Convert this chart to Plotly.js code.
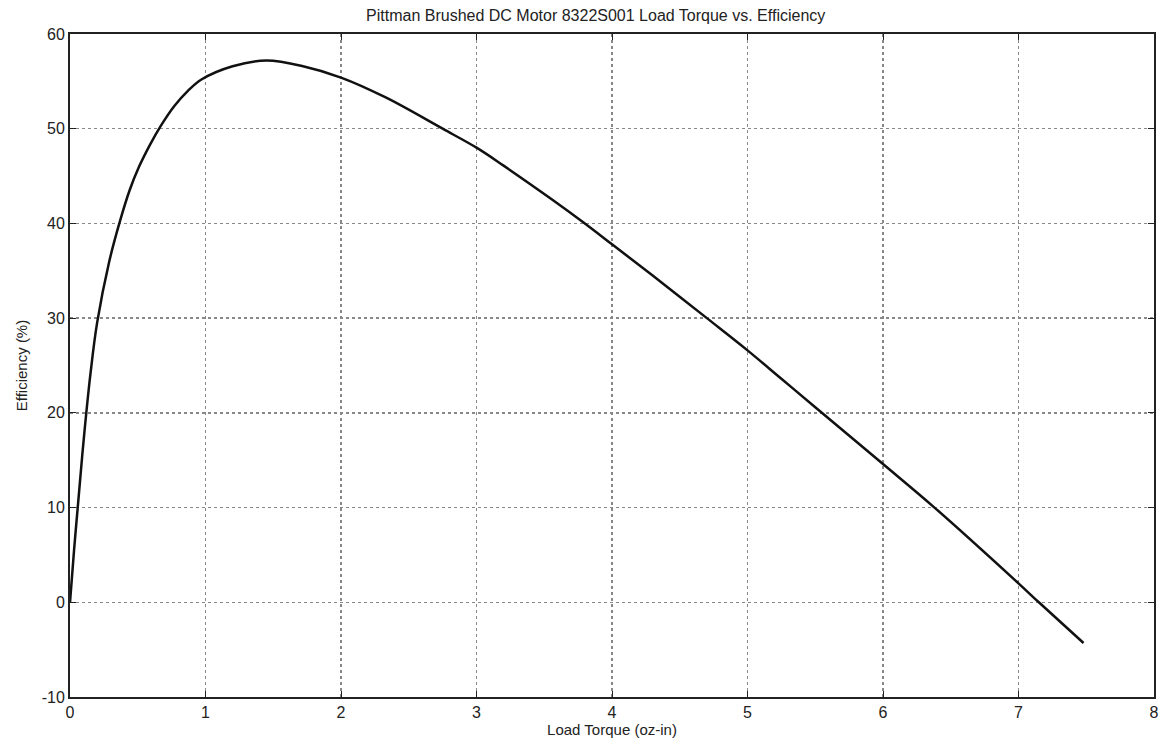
<!DOCTYPE html>
<html>
<head>
<meta charset="utf-8">
<script src="https://cdn.plot.ly/plotly-3.0.1.min.js"></script>
<style>html,body{margin:0;padding:0;background:#fff;}#chart{width:1168px;height:745px;}</style>
</head>
<body>
<div id="chart"></div>
<script>
const loadTorque = [0, 0.03, 0.06, 0.1, 0.15, 0.2, 0.29, 0.364, 0.44, 0.51, 0.59, 0.67, 0.77, 0.87, 0.97, 1.2, 1.45, 1.72, 2.0, 2.33, 2.75, 3.0, 3.2, 3.56, 3.78, 4.0, 4.3, 4.7, 5.0, 5.25, 5.5, 6.0, 6.38, 7.0, 7.15, 7.48];
const efficiency = [0, 5.5, 10.5, 17, 24, 29.5, 36, 40, 43.5, 46.0, 48.3, 50.3, 52.4, 54.0, 55.2, 56.6, 57.2, 56.6, 55.4, 53.3, 50.0, 48.0, 46.1, 42.5, 40.2, 37.8, 34.5, 30.0, 26.6, 23.6, 20.6, 14.6, 10, 2.0, 0, -4.3];
const xTicks = [0, 1, 2, 3, 4, 5, 6, 7, 8];
const yTicks = [-10, 0, 10, 20, 30, 40, 50, 60];

const fam = 'Liberation Sans, Arial, sans-serif';

Plotly.newPlot('chart', [{
  x: loadTorque,
  y: efficiency,
  type: 'scatter',
  mode: 'lines',
  line: {color: '#111', width: 2.5, shape: 'spline', smoothing: 1},
  hoverinfo: 'x+y'
}], {
  width: 1168, height: 745,
  margin: {l: 70, r: 14, t: 34, b: 48},
  paper_bgcolor: '#fff', plot_bgcolor: '#fff',
  font: {family: fam, color: '#222', size: 15},
  showlegend: false,
  title: {text: 'Pittman Brushed DC Motor 8322S001 Load Torque vs. Efficiency', font: {family: fam, size: 16, color: '#222'}, x: 0.51, xanchor: 'center', y: 0.98, yanchor: 'middle'},
  xaxis: {
    range: [0, 8], tickvals: xTicks, ticktext: xTicks.map(String),
    showline: true, linecolor: '#222', linewidth: 2, mirror: 'ticks',
    ticks: 'inside', ticklen: 6, tickcolor: '#222',
    showgrid: true, gridcolor: '#888', griddash: 'dot', gridwidth: 1.5,
    zeroline: false, tickfont: {family: fam, size: 16, color: '#222'},
    title: {text: 'Load Torque (oz-in)', font: {family: fam, size: 15, color: '#222'}, standoff: 2}
  },
  yaxis: {
    range: [-10, 60], tickvals: yTicks, ticktext: yTicks.map(String),
    showline: true, linecolor: '#222', linewidth: 2, mirror: 'ticks',
    ticks: 'inside', ticklen: 6, tickcolor: '#222',
    showgrid: true, gridcolor: '#888', griddash: 'dot', gridwidth: 1.5,
    zeroline: false, tickfont: {family: fam, size: 16, color: '#222'},
    title: {text: 'Efficiency (%)', font: {family: fam, size: 15, color: '#222'}, standoff: 10}
  }
}, {displayModeBar: false, staticPlot: true});
</script>
</body>
</html>
